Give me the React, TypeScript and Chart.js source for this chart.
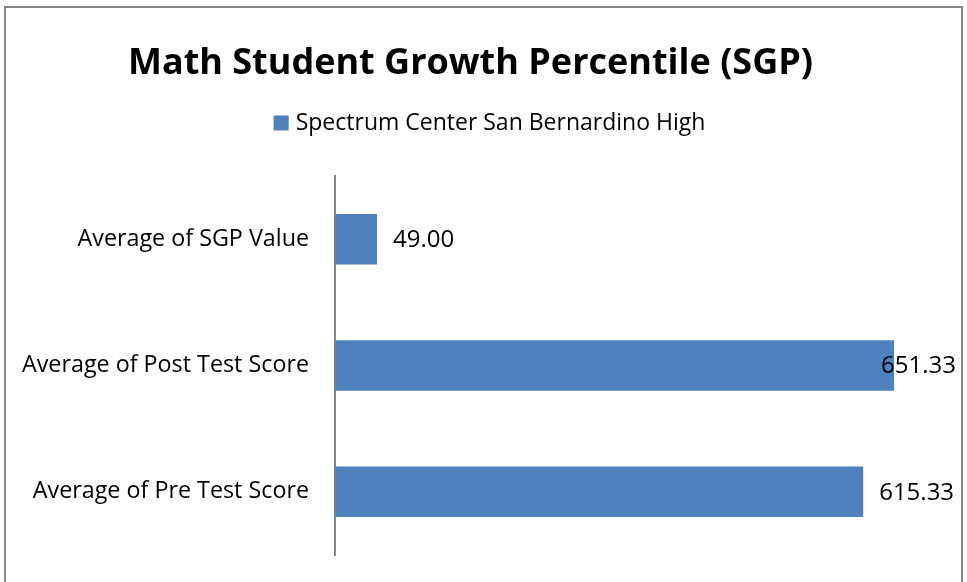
import React, { useEffect, useRef } from "react";
import { Chart, registerables } from "chart.js";

Chart.register(...registerables);

const titleText = "Math Student Growth Percentile (SGP)";
const seriesName = "Spectrum Center San Bernardino High";
const categories = ["Average of SGP Value", "Average of Post Test Score", "Average of Pre Test Score"];
const values = [49.0, 651.33, 615.33];
const barColor = "#4F81BD";
const axisMax = 706;

const FONT = "'Open Sans', 'Noto Sans', sans-serif";

const framePlugin = {
  id: "frame",
  beforeDraw(chart: any) {
    const ctx = chart.ctx;
    ctx.save();
    ctx.fillStyle = "#ffffff";
    ctx.fillRect(0, 0, chart.width, chart.height);
    ctx.strokeStyle = "#868686";
    ctx.lineWidth = 2;
    ctx.strokeRect(5, 7, chart.width - 10, chart.height + 20);
    ctx.restore();
  },
};

const legendPlugin = {
  id: "customLegend",
  afterDraw(chart: any) {
    const ctx = chart.ctx;
    const ds = chart.data.datasets[0];
    ctx.save();
    ctx.font = `23px ${FONT}`;
    const tw = ctx.measureText(ds.label).width;
    const box = 15;
    const gap = 7;
    const total = box + gap + tw;
    const cx = 489.5;
    const cy = 123;
    const x0 = cx - total / 2;
    ctx.fillStyle = ds.backgroundColor;
    ctx.fillRect(x0, cy - box / 2, box, box);
    ctx.fillStyle = "#000000";
    ctx.textBaseline = "middle";
    ctx.textAlign = "left";
    ctx.fillText(ds.label, x0 + box + gap, cy);
    ctx.restore();
  },
};

const valueLabelPlugin = {
  id: "valueLabels",
  afterDatasetsDraw(chart: any) {
    const ctx = chart.ctx;
    const meta = chart.getDatasetMeta(0);
    const data = chart.data.datasets[0].data;
    ctx.save();
    ctx.font = `24px ${FONT}`;
    ctx.fillStyle = "#000000";
    ctx.textBaseline = "middle";
    ctx.textAlign = "left";
    meta.data.forEach((bar: any, i: number) => {
      const txt = Number(data[i]).toFixed(2);
      const w = ctx.measureText(txt).width;
      let x = bar.x + 16;
      const limit = chart.width - 11;
      if (x + w > limit) x = limit - w;
      ctx.fillText(txt, x, bar.y + 1);
    });
    ctx.restore();
  },
};

export default function App() {
  const ref = useRef<HTMLCanvasElement | null>(null);
  useEffect(() => {
    document.body.style.margin = "0";
    if (!ref.current) return;
    const chart = new Chart(ref.current, {
      type: "bar",
      data: {
        labels: categories,
        datasets: [
          {
            label: seriesName,
            data: values,
            backgroundColor: barColor,
            borderWidth: 0,
            categoryPercentage: 1,
            barPercentage: 0.4,
          },
        ],
      },
      options: {
        indexAxis: "y",
        responsive: false,
        animation: false,
        layout: { padding: { left: 0, right: 26, top: 0, bottom: 27 } },
        plugins: {
          legend: { display: false },
          tooltip: { enabled: false },
          title: {
            display: true,
            text: titleText,
            color: "#000000",
            font: { family: FONT, size: 36, weight: "bold", lineHeight: 1.2 },
            padding: { top: 42, bottom: 91 },
          },
        },
        scales: {
          x: { display: false, min: 0, max: axisMax },
          y: {
            grid: { display: false, drawTicks: false },
            border: { display: true, color: "#868686", width: 2 },
            ticks: {
              color: "#000000",
              font: { family: FONT, size: 23.3 },
              padding: 26,
            },
            afterFit(scale: any) {
              scale.width = 335;
              scale.paddingTop = 0;
              scale.paddingBottom = 0;
            },
          },
        },
      },
      plugins: [framePlugin, legendPlugin, valueLabelPlugin],
    });
    return () => chart.destroy();
  }, []);
  return (
    <div style={{ width: 967, height: 582 }}>
      <canvas ref={ref} width={967} height={582} />
    </div>
  );
}
